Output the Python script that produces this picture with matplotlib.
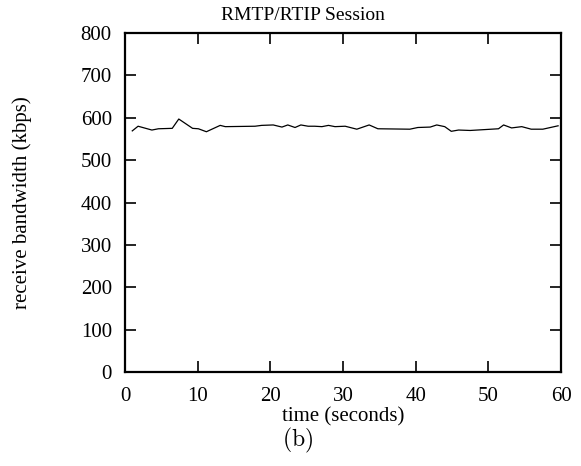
import matplotlib
matplotlib.use("Agg")
import matplotlib.pyplot as plt

times = [1.0, 1.8, 3.7, 4.6, 6.5, 7.4, 9.3, 10.1, 11.2, 13.1, 13.8, 17.9, 18.8, 20.4,
         21.6, 22.4, 23.4, 24.2, 25.2, 26.1, 27.1, 28.0, 28.9, 30.3, 31.9, 33.6, 34.8,
         39.2, 40.3, 42.0, 42.9, 44.0, 44.9, 45.9, 47.5, 51.4, 52.1, 53.2, 54.6, 55.9,
         57.5, 59.6]
bandwidth = [569, 580, 571, 574, 575, 597, 575, 574, 567, 582, 579, 580, 582, 583,
             578, 583, 577, 583, 580, 580, 579, 582, 579, 580, 573, 583, 574,
             573, 577, 578, 583, 579, 568, 571, 570, 574, 583, 576, 579, 573,
             573, 581]
xticks = [0, 10, 20, 30, 40, 50, 60]
yticks = [0, 100, 200, 300, 400, 500, 600, 700, 800]

plt.rcParams['font.family'] = ['Liberation Serif', 'DejaVu Serif']
plt.rcParams['mathtext.fontset'] = 'cm'

fig = plt.figure(figsize=(5.81, 4.66), dpi=100)
ax = fig.add_axes([125/581, 1-372/466, 436/581, 339/466])
ax.plot(times, bandwidth, color='black', linewidth=0.9)
ax.set_xlim(0, 60)
ax.set_ylim(0, 800)
ax.set_xticks(xticks)
ax.set_yticks(yticks)
ax.tick_params(direction='in', length=8, width=1.2, top=True, right=True,
               labelsize=15)
ax.tick_params(axis='y', pad=9.5)
ax.tick_params(axis='x', pad=11)
for s in ax.spines.values():
    s.set_linewidth(1.6)
fig.text(343/581, 1-417/466, 'time (seconds)', ha='center', va='center', fontsize=15)
fig.text(22/581, 1-203/466, 'receive bandwidth (kbps)', rotation=90,
         ha='center', va='center', fontsize=15)
fig.text(303/581, 1-15/466, 'RMTP/RTIP Session', ha='center', va='center', fontsize=14)
fig.text(298/581, 1-440/466, r'$(\mathrm{b})$', ha='center', va='center', fontsize=17)
fig.savefig('out.png', dpi=100)
